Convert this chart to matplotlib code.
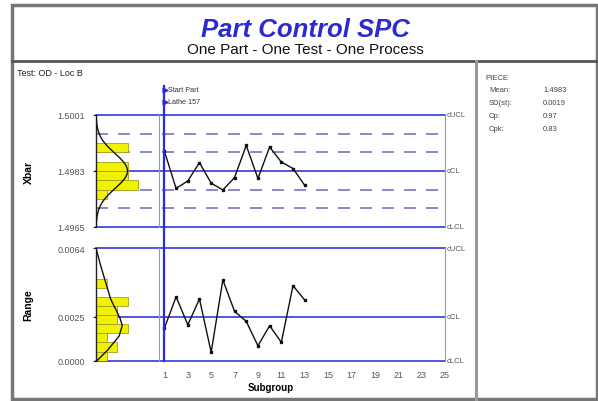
import numpy as np
import matplotlib
matplotlib.use("Agg")
import matplotlib.pyplot as plt
from matplotlib.patches import Rectangle
from matplotlib.lines import Line2D

plt.rcParams['font.family'] = ['Liberation Sans', 'DejaVu Sans']

# ---------------- data ----------------
subgroups = list(range(1, 14))
xbar = [1.49894, 1.49774, 1.49798, 1.49857, 1.49791, 1.49769, 1.49809,
        1.49912, 1.49806, 1.49907, 1.49859, 1.49838, 1.49784]
rng = [0.00185, 0.00364, 0.00205, 0.00351, 0.00048, 0.00460, 0.00281,
       0.00224, 0.00085, 0.00199, 0.00105, 0.00427, 0.00346]

xbar_limits = [1.4965, 1.4983, 1.5001]          # LCL, CL, UCL
xbar_limit_labels = ["1.4965", "1.4983", "1.5001"]
xbar_zones = [1.4971, 1.4977, 1.4989, 1.4995]    # 1 and 2 sigma lines
rng_limits = [0.0, 0.0025, 0.0064]
rng_limit_labels = ["0.0000", "0.0025", "0.0064"]
limit_names = ["cLCL", "cCL", "cUCL"]

xbar_hist_edges = [1.4974, 1.4977, 1.4980, 1.4983, 1.4986, 1.4989, 1.4992]
xbar_hist_counts = [1, 4, 3, 3, 0, 3]
rng_hist_edges = [0.0, 0.00052, 0.00104, 0.00156, 0.00208, 0.00260,
                  0.00312, 0.00364, 0.00416, 0.00468]
rng_hist_counts = [1, 2, 1, 3, 2, 2, 3, 0, 1]
xbar_fit_mean = 1.4983
xbar_fit_sd = 0.00056
xbar_fit_peak = 3.0
rng_curve_values = [0.0, 0.0006, 0.0014, 0.0020, 0.0024, 0.0029, 0.0035,
                    0.0045, 0.0054, 0.0064]
rng_curve_counts = [0.1, 1.1, 2.2, 2.5, 2.3, 1.9, 1.4, 0.9, 0.45, 0.0]

xticks = list(range(1, 26, 2))
events = ["Start Part", "Lathe 157"]
event_subgroup = 1
stats_names = ["Mean:", "SD(st):", "Cp:", "Cpk:"]
stats_values = ["1.4983", "0.0019", "0.97", "0.83"]

# ---------------- layout ----------------
W, H = 598, 402
fig = plt.figure(figsize=(W / 100, H / 100), dpi=100)
fig.patch.set_facecolor("white")


def box(x0, y0, x1, y1):
    return [x0 / W, 1 - y1 / H, (x1 - x0) / W, (y1 - y0) / H]


def fx(x):
    return x / W


def fy(y):
    return 1 - y / H


frame_col = "#777777"
# outer frame & separators
fig.add_artist(Rectangle((fx(12), fy(400)), fx(597) - fx(12), fy(6) - fy(400),
                         transform=fig.transFigure, fill=False,
                         edgecolor=frame_col, lw=2.5))
fig.add_artist(Line2D([fx(12), fx(597)], [fy(62), fy(62)],
                      transform=fig.transFigure, color="#555555", lw=2))
fig.add_artist(Line2D([fx(476), fx(476)], [fy(62), fy(400)],
                      transform=fig.transFigure, color="#999999", lw=2.2))

fig.text(0.51, fy(30), "Part Control SPC", ha="center", va="center",
         fontsize=18.5, fontweight="bold", fontstyle="italic", color="#2a2ad0")
fig.text(0.51, fy(50), "One Part - One Test - One Process", ha="center",
         va="center", fontsize=11, color="#111111")
fig.text(fx(17), fy(73), "Test: OD - Loc B", ha="left", va="center",
         fontsize=6.5, color="#222222")

# stats panel
fig.text(fx(485), fy(78), "PIECE", fontsize=5.5, color="#444444", va="center")
for i, (n, v) in enumerate(zip(stats_names, stats_values)):
    yy = fy(91 + 13 * i)
    fig.text(fx(489), yy, n, fontsize=5.5, color="#444444", va="center")
    fig.text(fx(543), yy, v, fontsize=5.5, color="#444444", va="center")

solid_col = "#4646d6"
dash_col = "#7474c8"
grid_col = "#9a9a9a"
tick_col = "#555555"

X_LEFT, X_RIGHT = -4.85, 25.0


def setup_main(ax, limits, labels):
    ax.set_xlim(X_LEFT, X_RIGHT)
    ax.set_ylim(limits[0], limits[-1])
    for s in ["top", "bottom", "left"]:
        ax.spines[s].set_visible(False)
    ax.spines["right"].set_color(grid_col)
    ax.spines["right"].set_linewidth(0.8)
    ax.set_yticks(limits)
    ax.set_yticklabels(labels)
    ax.tick_params(axis="y", length=0, labelsize=6.5, labelcolor=tick_col, pad=8)
    for v in limits:
        ax.axhline(v, color=solid_col, lw=1.3, clip_on=False, zorder=2)
    for v, name in zip(limits, limit_names):
        ax.text(1.004, v, name, transform=ax.get_yaxis_transform(),
                fontsize=5.5, color=tick_col, va="center", ha="left")
    ax.patch.set_alpha(0)


def setup_hist(axh, limits):
    axh.set_ylim(limits[0], limits[-1])
    axh.set_xlim(0, 6)
    axh.patch.set_alpha(0)
    for s in ["top", "bottom"]:
        axh.spines[s].set_visible(False)
    axh.spines["left"].set_color("#222222")
    axh.spines["left"].set_linewidth(1.0)
    axh.spines["right"].set_color(grid_col)
    axh.spines["right"].set_linewidth(0.8)
    axh.set_xticks([])
    axh.set_yticks(limits)
    axh.tick_params(axis="y", length=2.5, labelleft=False, color="#222222")


# ---------------- Xbar chart ----------------
ax_x = fig.add_axes(box(96, 116, 445, 228))
setup_main(ax_x, xbar_limits, xbar_limit_labels)
for v in xbar_zones:
    ax_x.axhline(v, color=dash_col, lw=1.2, ls=(0, (7.2, 6)), zorder=2)
ax_x.plot(subgroups, xbar, color="#111111", lw=1.0, marker="s",
          markersize=2.1, zorder=4)
ax_x.set_xticks([])
ax_x.set_ylabel("Xbar", fontsize=7.5, fontweight="bold", labelpad=17)

axh_x = fig.add_axes(box(96, 116, 159, 228))
setup_hist(axh_x, xbar_limits)
axh_x.barh(xbar_hist_edges[:-1], xbar_hist_counts,
           height=np.diff(xbar_hist_edges), align="edge",
           color="#f2f200", edgecolor="#a0a020", lw=0.6, zorder=1)
yy = np.linspace(xbar_limits[0], xbar_limits[-1], 300)
axh_x.plot(xbar_fit_peak * np.exp(-0.5 * ((yy - xbar_fit_mean) / xbar_fit_sd) ** 2),
           yy, color="#111111", lw=1.0, zorder=3)

# ---------------- Range chart ----------------
ax_r = fig.add_axes(box(96, 249.3, 445, 361.7))
setup_main(ax_r, rng_limits, rng_limit_labels)
ax_r.plot(subgroups, rng, color="#111111", lw=1.0, marker="s",
          markersize=2.1, zorder=4)
ax_r.set_xticks(xticks)
ax_r.set_xticklabels([str(t) for t in xticks])
ax_r.tick_params(axis="x", length=0, labelsize=6.5, labelcolor=tick_col, pad=7)
ax_r.set_xlabel("Subgroup", fontsize=7, fontweight="bold", labelpad=2)
ax_r.set_ylabel("Range", fontsize=7.5, fontweight="bold", labelpad=17)

axh_r = fig.add_axes(box(96, 249.3, 159, 361.7))
setup_hist(axh_r, rng_limits)
axh_r.barh(rng_hist_edges[:-1], rng_hist_counts,
           height=np.diff(rng_hist_edges), align="edge",
           color="#f2f200", edgecolor="#a0a020", lw=0.6, zorder=1)
axh_r.plot(rng_curve_counts, rng_curve_values, color="#111111", lw=1.0, zorder=3)

# event marker line across both charts
ax_r.axvline(event_subgroup, ymin=0, ymax=(361.7 - 228) / 112.4, color="#2a2ae0",
             lw=1.6, clip_on=False, zorder=5)
ax_x.axvline(event_subgroup, ymin=0, ymax=(228 - 87) / 112, color="#2a2ae0",
             lw=1.6, clip_on=False, zorder=5)
for i, ev in enumerate(events):
    yv = fy(91 + 12 * i)
    fig.text(fx(167.5), yv, ev, fontsize=5.2, color="#333333", va="center")
    fig.add_artist(Line2D([fx(165)], [yv], transform=fig.transFigure,
                          marker=">", markersize=3.5, color="#2a2ae0", lw=0))

fig.savefig("out.png", dpi=100, facecolor="white")
